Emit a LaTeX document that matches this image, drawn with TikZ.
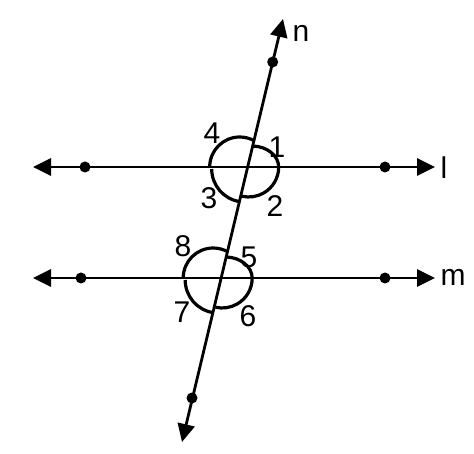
\documentclass[tikz,border=0pt]{standalone}
\usepackage{fontspec}
\setmainfont{Liberation Sans}
\usetikzlibrary{arrows.meta}
\tikzset{
	ray/.style={line width=1.4pt,{Triangle[length=9pt,width=8.5pt]}-{Triangle[length=9pt,width=8.5pt]}},
	turn/.style={line width=1.6pt},
	lab/.style={font=\fontsize{15}{17}\selectfont,inner sep=0pt},
}
\begin{document}
\begin{tikzpicture}[x=0.5pt,y=0.5pt]
	\useasboundingbox (0,0) rectangle (474,453);
	\node [coordinate] (LL) at ( 33,286) {};
	\node [coordinate] (LR) at (435,286) {};
	\node [coordinate] (ML) at ( 33,175) {};
	\node [coordinate] (MR) at (435,175) {};
	\node [coordinate] (NT) at (283,434) {};
	\node [coordinate] (NB) at (182, 11) {};
	\node [coordinate] (P) at (247.7,286) {};
	\node [coordinate] (Q) at (221.2,175) {};
	% points on the lines
	\node [coordinate] (L1) at ( 85,286) {};
	\node [coordinate] (L2) at (385,286) {};
	\node [coordinate] (M1) at ( 81,175) {};
	\node [coordinate] (M2) at (385,175) {};
	\node [coordinate] (N1) at (272.7,391) {};
	\node [coordinate] (N2) at (192,55) {};
	\draw [ray] (LL) -- (LR);
	\draw [ray] (ML) -- (MR);
	\draw [ray] (NB) -- (NT);
	\foreach \p in {L1,L2,M1,M2,N1,N2}
		\fill (\p) circle (5.5);
	% angle marks
	\foreach \c in {P,Q} {
		\draw [turn] ([shift={(-38,0)}]\c) arc [start angle=180,end angle=60,radius=30];
		\draw [turn] ([shift={(4.9,21)}]\c) arc [start angle=88,end angle=0,x radius=27,y radius=21];
		\draw [turn] ([shift={(31,0)}]\c) arc [start angle=0,end angle=-103,radius=30];
		\draw [turn] ([shift={(-36,-2)}]\c) arc [start angle=180,end angle=261,radius=33];
	}
	\node [lab] (a4) at (212,320) {4};
	\node [lab] (a1) at (277,306) {1};
	\node [lab] (a3) at (209,255) {3};
	\node [lab] (a2) at (275,247) {2};
	\node [lab] (a8) at (183,207) {8};
	\node [lab] (a5) at (249,196) {5};
	\node [lab] (a7) at (182,141) {7};
	\node [lab] (a6) at (248,137) {6};
	\node [lab] (n) at (301,420) {n};
	\node [lab] (l) at (444,285) {l};
	\node [lab] (m) at (453,176) {m};
\end{tikzpicture}
\end{document}
